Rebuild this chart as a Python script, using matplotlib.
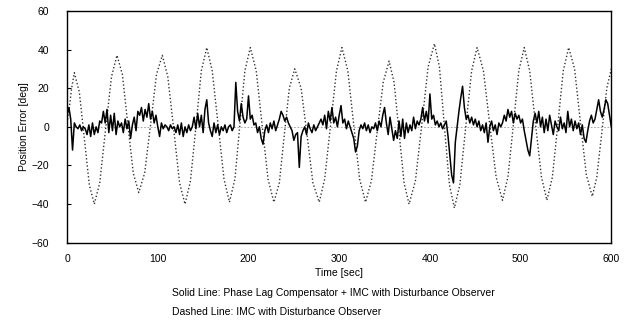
import matplotlib.pyplot as plt
import numpy as np

plt.rcParams['font.family'] = ['Liberation Sans', 'DejaVu Sans']

# dashed line: IMC with disturbance observer
dash_t = [0, 3, 5, 8, 13.5, 19, 24.5, 30, 36, 42.5, 49, 55, 61, 67, 73, 79,
          85.5, 92, 98.5, 105, 111, 117.5, 124, 130, 136, 142, 148, 154,
          160, 166.5, 173, 179, 185, 190.5, 196, 202, 208.5, 215, 221.5, 228,
          234, 239.5, 245, 251, 258, 264.5, 271, 278, 284, 290.5, 297, 303,
          309.5, 316, 322.5, 329, 335.5, 342, 348.5, 355, 360.5, 366, 371.5, 377,
          384, 391, 398, 405, 410.5, 416, 421.5, 427, 433, 439.5, 446, 452,
          459, 466, 473, 480, 486, 492, 498, 504, 510, 516.5, 523, 529,
          535, 541, 547, 553, 559.5, 566, 572.5, 579, 584, 589.5, 595, 600]
dash_v = [2, 12, 20, 28, 18, -6, -30, -40, -29, -1, 26, 37, 27, 1, -24, -34,
          -24, 1, 27, 37, 26, -1, -29, -40, -28, 0, 29, 41,
          29, 1, -27, -39, -27, 1, 29, 41, 29, 1, -27, -39,
          -29, -4, 20, 30, 20, -4, -29, -39, -27, 1, 29, 41,
          29, 1, -27, -39, -28, -2, 23, 34, 23, -3, -29, -40,
          -28, 1, 31, 43, 31, 0, -30, -42, -30, 0, 29, 41,
          29, 1, -26, -38, -26, 1, 29, 41, 29, 1, -26, -38,
          -26, 1, 29, 41, 30, 2, -25, -36, -26, -3, 20, 30]

# solid line: phase lag compensator + IMC with disturbance observer, every 2 s
solid_v = [
    6, 10, 4, -12, 2, 0, -1, 1, -2, 0,
    -1, -4, 1, -5, 2, -4, 0, -3, 3, 2,
    8, 2, 9, -3, 6, -2, 7, -4, 3, 0,
    2, -3, 4, -1, 3, -6, 1, 5, -2, 8,
    6, 10, 3, 9, 5, 12, 4, 8, 2, 6,
    0, -5, 2, -1, 1, 0, -2, 1, -1, 0,
    -3, 1, -4, 2, -5, 0, -3, 1, -2, 0,
    5, -1, 7, 0, 6, -3, 9, 14, 2, -2,
    -5, 2, -3, 1, -4, 0, -2, 1, -3, 0,
    1, -2, 0, 23, 8, 3, 12, 5, 2, 4,
    16, 4, 6, 1, 2, -3, 0, -6, -9, -2,
    1, -3, 2, -1, 3, -2, 1, 4, 8, 6,
    3, 5, 2, 0, -2, -7, -4, -3, -21, -5,
    -2, 0, -4, 2, -1, -3, 1, -2, 0, 2,
    4, 1, 6, -1, 8, 3, 10, 2, 5, 0,
    6, 11, 2, 4, -1, 3, 0, -3, -6, -13,
    -10, -2, 1, -1, 2, -2, 1, -3, 0, -1,
    2, -2, 3, 0, 6, 10, 2, -4, 5, -1,
    -7, -2, -6, 3, -5, 4, -6, 2, -3, 1,
    -2, 5, -1, 3, 1, 4, 10, 3, 8, 2,
    17, 4, 6, 1, 3, 0, 2, -1, 1, 3,
    -5, -15, -25, -29, -8, 0, 8, 15, 21, 10,
    4, 6, 2, 5, 1, 4, 0, 3, -2, 1,
    -3, 2, -8, 0, 3, -2, 1, -4, 2, 0,
    2, 6, 3, 9, 5, 8, 2, 7, 4, 6,
    2, 4, -2, -7, -12, -15, -6, 3, 7, 2,
    8, 0, 5, -3, 4, -2, 6, 1, -4, 3,
    0, -2, 5, -1, 2, -3, 8, 0, 4, -2,
    3, -1, 2, -4, 1, -6, -8, -2, 3, 6,
    2, 4, 9, 14, 8, 5, 9, 14, 12, 6,
    0]
solid_t = np.arange(0, 601, 2)

fig = plt.figure(figsize=(6.27, 3.29), dpi=100)
ax = fig.add_axes([0.107, 0.262, 0.868, 0.705])

ax.axhline(0, color='#999999', lw=0.6, ls=(0, (2, 2)), zorder=1)
ax.plot(dash_t, dash_v, color='#333333', lw=1.0, ls=(0, (1, 1.6)), zorder=2)
ax.plot(solid_t, solid_v, color='black', lw=1.1, zorder=3)

ax.set_xlim(0, 600)
ax.set_ylim(-60, 60)
ax.set_xticks(np.arange(0, 601, 100))
ax.set_yticks(np.arange(-60, 61, 20))
ax.tick_params(axis='y', direction='in', length=3, labelsize=7.5, pad=13)
ax.tick_params(axis='x', direction='in', length=0, labelsize=7.5, pad=8)
for s in ax.spines.values():
    s.set_linewidth(1.0)
    s.set_color('black')

ax.set_xlabel('Time [sec]', fontsize=7.5, labelpad=3)
ax.set_ylabel('Position Error [deg]', fontsize=7.5, labelpad=2)

fig.text(0.274, 0.108, 'Solid Line: Phase Lag Compensator + IMC with Disturbance Observer',
         fontsize=7.5, ha='left', va='center')
fig.text(0.274, 0.053, 'Dashed Line: IMC with Disturbance Observer',
         fontsize=7.5, ha='left', va='center')

fig.savefig('out.png', dpi=100)
